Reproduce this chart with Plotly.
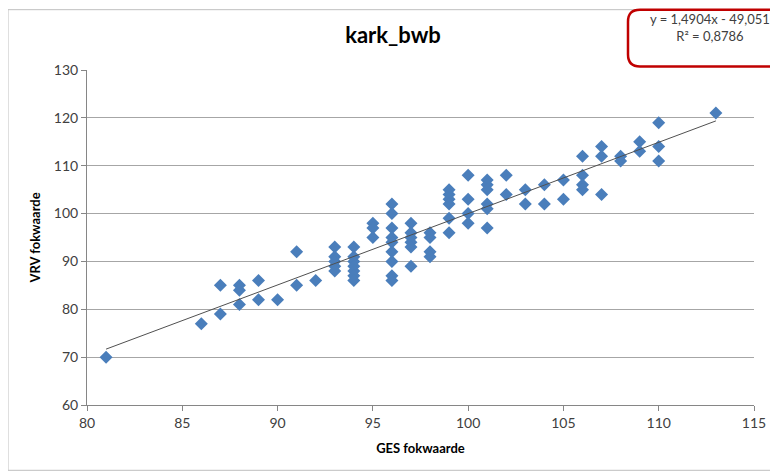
import plotly.graph_objects as go

# GES fokwaarde -> list of VRV fokwaarde values observed at that GES value
ges_values = [81, 86, 87, 88, 89, 90, 91, 92, 93, 94, 95, 96, 97, 98, 99, 100,
              101, 102, 103, 104, 105, 106, 107, 108, 109, 110, 113]
vrv_groups = [
    [70],
    [77],
    [85, 79],
    [85, 84, 81],
    [86, 82],
    [82],
    [92, 85],
    [86],
    [93, 91, 90, 89, 88],
    [93, 91, 90, 89, 88, 87, 86],
    [98, 97, 95],
    [102, 100, 97, 95, 94, 92, 90, 87, 86],
    [98, 96, 95, 94, 93, 89],
    [96, 95, 92, 91],
    [105, 104, 103, 102, 99, 96],
    [108, 103, 100, 98],
    [107, 106, 105, 102, 101, 97],
    [108, 104],
    [105, 102],
    [106, 102],
    [107, 103],
    [112, 108, 106, 105],
    [114, 112, 104],
    [112, 111],
    [115, 113],
    [119, 114, 111],
    [121],
]

trend_slope = 1.4904
trend_intercept = -49.051
trend_label = "y = 1,4904x - 49,051<br>R² = 0,8786"
title_text = "kark_bwb"
x_title = "GES fokwaarde"
y_title = "VRV fokwaarde"

xs, ys = [], []
for g, vals in zip(ges_values, vrv_groups):
    for v in vals:
        xs.append(g)
        ys.append(v)

tx = [min(xs), max(xs)]
ty = [trend_slope * v + trend_intercept for v in tx]

FONT = "Lato"
OFF = 8  # page body margin
W, H = 778 - OFF, 473 - OFF
ML, MR, MT, MB = 79, 24, 61.5, 67.5
PW, PH = W - ML - MR, H - MT - MB


def px(x):
    # reference-screen pixel -> paper coordinate
    return (x - OFF - ML) / PW


def py(y):
    return (H - MB - (y - OFF)) / PH


fig = go.Figure()
fig.add_trace(go.Scatter(
    x=xs, y=ys, mode="markers",
    marker=dict(symbol="diamond", size=10, color="#4a7ebb",
                line=dict(width=0)),
    showlegend=False, hoverinfo="x+y"))
fig.add_trace(go.Scatter(
    x=tx, y=ty, mode="lines",
    line=dict(color="#505050", width=1),
    showlegend=False, hoverinfo="skip"))

# rounded red text box (pixel positions converted to paper)
x0, x1 = px(628), px(800)
y0, y1 = py(66), py(9)
rx, ry = 12 / PW, 12 / PH
path = (f"M {x0+rx},{y1} L {x1},{y1} L {x1},{y0} L {x0+rx},{y0} "
        f"Q {x0},{y0} {x0},{y0+ry} L {x0},{y1-ry} Q {x0},{y1} {x0+rx},{y1} Z")

fig.update_layout(
    width=W, height=H,
    margin=dict(l=ML, r=MR, t=MT, b=MB),
    paper_bgcolor="white", plot_bgcolor="white",
    title=dict(text=f"<b>{title_text}</b>", x=(393 - OFF) / W, xanchor="center",
               y=1 - (35 - OFF) / H, yanchor="middle",
               font=dict(family=FONT, size=22, color="#000000")),
    font=dict(family=FONT, size=13, color="#404040"),
    xaxis=dict(range=[80, 115], dtick=5, tick0=80,
               showgrid=False, zeroline=False,
               showline=True, linecolor="#868686", linewidth=1,
               ticks="outside", ticklen=5, tickcolor="#868686",
               tickfont=dict(family=FONT, size=14, color="#404040"),
               title=dict(text=f"<b>{x_title}</b>", standoff=14,
                          font=dict(family=FONT, size=13, color="#000000"))),
    yaxis=dict(range=[60, 130], dtick=10, tick0=60,
               showgrid=True, gridcolor="#a6a6a6", gridwidth=1,
               zeroline=False,
               showline=True, linecolor="#868686", linewidth=1,
               ticks="outside", ticklen=5, tickcolor="#868686",
               tickfont=dict(family=FONT, size=14, color="#404040"),
               title=dict(text=f"<b>{y_title}</b>", standoff=10,
                          font=dict(family=FONT, size=13, color="#000000"))),
    shapes=[
        dict(type="rect", xref="paper", yref="paper",
             x0=px(8), x1=px(900), y0=py(471), y1=py(9),
             line=dict(color="#bfbfbf", width=1), fillcolor="rgba(0,0,0,0)",
             layer="below"),
        dict(type="path", xref="paper", yref="paper", path=path,
             line=dict(color="#c00000", width=2.5), fillcolor="white"),
    ],
    annotations=[
        dict(text=trend_label, xref="paper", yref="paper",
             x=px(710), y=py(27), xanchor="center", yanchor="middle",
             showarrow=False, align="center",
             font=dict(family=FONT, size=13, color="#404040")),
    ],
)

fig.write_html("out.html")
